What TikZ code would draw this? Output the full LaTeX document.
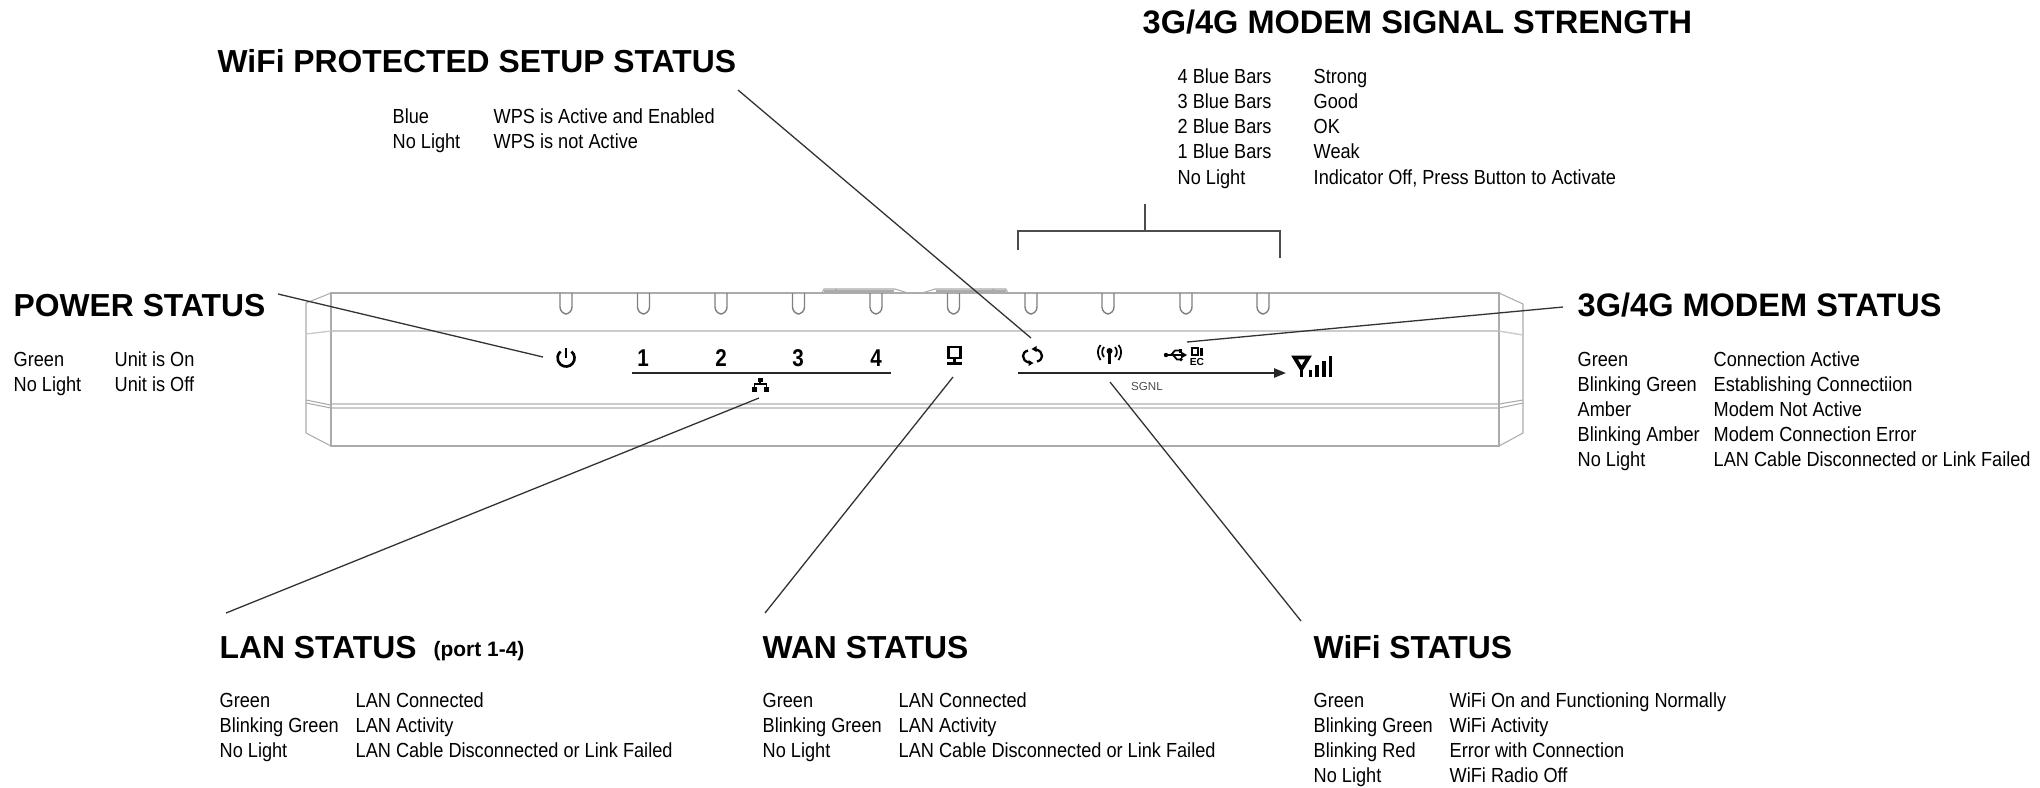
\documentclass[tikz,border=0pt]{standalone}
\usepackage{fontspec}
\usetikzlibrary{arrows.meta}
\setmainfont{Liberation Sans}
\newfontfamily\rowfont[FakeStretch=0.89]{Liberation Sans}
\newfontfamily\digitfont[FakeStretch=0.85]{Liberation Sans}
\tikzset{
  headline/.style={anchor=base west, inner sep=0pt, font=\fontsize{9.05}{10}\selectfont\bfseries},
  headwide/.style={headline, font=\fontsize{9.25}{10}\selectfont\bfseries},
  rowtext/.style={anchor=base west, inner sep=0pt, font=\fontsize{5.8}{7}\rowfont},
  leddigit/.style={inner sep=0pt, font=\fontsize{6.9}{8}\digitfont\bfseries},
  leader/.style={black!80, line width=0.37pt},
  shell/.style={black!33, line width=0.3pt},
  band/.style={black!20, line width=0.8pt},
  iconline/.style={black, line width=0.75pt},
}
\begin{document}
\begin{tikzpicture}[x=0.01cm, y=-0.01cm]
  \useasboundingbox (0,0) rectangle (2040,787);

  \draw[band] (331,331) -- (1499,331);
  \draw[band, line width=0.5pt] (331,404) -- (1499,404);
  \draw[band, line width=0.5pt] (331,408) -- (1499,408);
  \draw[shell] (331,293) -- (1499,293) -- (1499,446) -- (331,446) -- cycle;
  \draw[shell] (331,293) -- (306,303) -- (306,433) -- (331,446);
  \draw[shell] (1499,293) -- (1523,304) -- (1523,433) -- (1499,446);
  \draw[band, line width=0.4pt] (306,334) -- (331,331);
  \draw[band, line width=0.4pt] (1499,331) -- (1523,335);
  \draw[shell] (306,400) -- (331,405);
  \draw[shell] (306,403) -- (331,408);
  \draw[shell] (1499,404) -- (1523,400);
  \draw[shell] (1499,408) -- (1523,403);
  \draw[shell] (822,293) -- (824,289) -- (895,289) -- (908,293);
  \draw[shell] (922,293) -- (935,289) -- (1006,289) -- (1008,293);
  \draw[shell] (824,291) -- (894,291);
  \draw[shell] (936,291) -- (1006,291);
  \draw[shell] (836,289) -- (836,293);
  \draw[shell] (993,289) -- (993,293);
  \foreach \tx in {566,643.5,721,798.5,876,953.5,1031,1108,1186,1263}
    \draw[shell, black!50, rounded corners=2pt, line width=0.4pt] (\tx-6,293) -- (\tx-6,314) -- (\tx+6,314) -- (\tx+6,293);

  \node[headline] (powerhead) at (13,316) {POWER STATUS};
  \foreach \ry/\ca/\cb in {366/Green/Unit is On,391/No Light/Unit is Off} {
    \node[rowtext] (powera\ry) at (13,\ry) {\ca};
    \node[rowtext] (powerb\ry) at (114,\ry) {\cb};
  }
  \node[headline] (wpshead) at (217,72) {WiFi PROTECTED SETUP STATUS};
  \foreach \ry/\ca/\cb in {123/Blue/WPS is Active and Enabled,148/No Light/WPS is not Active} {
    \node[rowtext] (wpsa\ry) at (392,\ry) {\ca};
    \node[rowtext] (wpsb\ry) at (493,\ry) {\cb};
  }
  \node[headwide] (signalhead) at (1142,33) {3G/4G MODEM SIGNAL STRENGTH};
  \foreach \ry/\ca/\cb in {83/4 Blue Bars/Strong,108/3 Blue Bars/Good,133/2 Blue Bars/OK,158/1 Blue Bars/Weak,184/No Light/{Indicator Off, Press Button to Activate}} {
    \node[rowtext] (signala\ry) at (1177,\ry) {\ca};
    \node[rowtext] (signalb\ry) at (1313,\ry) {\cb};
  }
  \node[headwide] (modemhead) at (1577,316) {3G/4G MODEM STATUS};
  \foreach \ry/\ca/\cb in {366/Green/Connection Active,391/Blinking Green/Establishing Connectiion,416/Amber/Modem Not Active,441/Blinking Amber/Modem Connection Error,466/No Light/LAN Cable Disconnected or Link Failed} {
    \node[rowtext] (modema\ry) at (1577,\ry) {\ca};
    \node[rowtext] (modemb\ry) at (1713,\ry) {\cb};
  }
  \node[headline] (lanhead) at (219,658) {LAN STATUS};
  \node[headline, font=\fontsize{5.95}{7}\selectfont\bfseries] (lanport) at (433,656) {(port 1-4)};
  \foreach \ry/\ca/\cb in {707/Green/LAN Connected,732/Blinking Green/LAN Activity,757/No Light/LAN Cable Disconnected or Link Failed} {
    \node[rowtext] (lana\ry) at (219,\ry) {\ca};
    \node[rowtext] (lanb\ry) at (355,\ry) {\cb};
  }
  \node[headline] (wanhead) at (762,658) {WAN STATUS};
  \foreach \ry/\ca/\cb in {707/Green/LAN Connected,732/Blinking Green/LAN Activity,757/No Light/LAN Cable Disconnected or Link Failed} {
    \node[rowtext] (wana\ry) at (762,\ry) {\ca};
    \node[rowtext] (wanb\ry) at (898,\ry) {\cb};
  }
  \node[headline] (wifihead) at (1313,658) {WiFi STATUS};
  \foreach \ry/\ca/\cb in {707/Green/WiFi On and Functioning Normally,732/Blinking Green/WiFi Activity,757/Blinking Red/Error with Connection,782/No Light/WiFi Radio Off} {
    \node[rowtext] (wifia\ry) at (1313,\ry) {\ca};
    \node[rowtext] (wifib\ry) at (1449,\ry) {\cb};
  }

  \foreach \n/\tx in {1/643,2/721,3/798,4/876}
    \node[leddigit] (led\n) at (\tx,358) {\n};
  \draw[black!85, line width=0.55pt] (632,373) -- (891,373);

  \draw[iconline] (571.5,351.5) arc[start angle=-50, end angle=230, radius=8.5];
  \draw[iconline] (566,348) -- (566,358);

  \fill (757.5,377.5) rectangle (762.5,382);
  \draw[line width=0.4pt] (760,380) -- (760,384) (754.5,389) -- (754.5,384) -- (766.5,384) -- (766.5,389);
  \fill (752,387) rectangle (757,392);
  \fill (764,387) rectangle (769,392);

  \draw[line width=0.6pt] (948.5,347) rectangle (960.5,358);
  \draw[line width=0.6pt] (954.5,358) -- (954.5,362);
  \fill (947,362) rectangle (962,365);

  \draw[iconline, line width=0.65pt] (1028,350.5) .. controls (1024.5,351.5) and (1023,353.5) .. (1023,356) .. controls (1023,359) and (1025,361.5) .. (1029,362.5);
  \fill (1033.5,363) -- (1028.5,360) -- (1028.5,366) -- cycle;
  \draw[iconline, line width=0.65pt] (1037,361.5) .. controls (1040.5,360.5) and (1042,358.5) .. (1042,356) .. controls (1042,353) and (1040,350.5) .. (1036,349.5);
  \fill (1031.5,349) -- (1036.5,352) -- (1036.5,346) -- cycle;

  \draw[line width=1pt] (1109.5,351) -- (1109.5,364);
  \fill (1109.5,351) circle (3);
  \foreach \sgn in {-1,1} {
    \draw[line width=0.5pt] (1109.5+\sgn*5.5,347) .. controls (1109.5+\sgn*8,350) and (1109.5+\sgn*8,354) .. (1109.5+\sgn*5.5,357);
    \draw[line width=0.5pt] (1109.5+\sgn*9,345) .. controls (1109.5+\sgn*12.5,349) and (1109.5+\sgn*12.5,355) .. (1109.5+\sgn*9,360);
  }

  \draw[line width=0.5pt] (1165,355) -- (1183,355);
  \fill (1166,355) circle (2.2);
  \fill (1187,355) -- (1181,351.5) -- (1181,358.5) -- cycle;
  \draw[line width=0.5pt] (1171,355) -- (1175,350.5) -- (1180,350.5);
  \draw[line width=0.5pt] (1173,355) -- (1177,359.5) -- (1181,359.5);
  \fill (1179,348.5) rectangle (1182,352.5);
  \fill (1181,359.5) circle (1.8);
  \draw[line width=0.7pt] (1192,348) rectangle (1198,355);
  \fill (1200,348) rectangle (1203,356);
  \node[inner sep=0pt, font=\fontsize{2.9}{3}\selectfont\bfseries] (ecmark) at (1197,361.5) {EC};

  \coordinate (signalstart) at (1018,373);
  \coordinate (signalend) at (1286,373);
  \draw[black!85, line width=0.55pt, -{Triangle[length=3.4pt,width=2.6pt]}] (signalstart) -- (signalend);
  \node[inner sep=0pt, text=black!70, font=\fontsize{3.3}{4}\selectfont] (sgnlmark) at (1147,386) {SGNL};

  \draw[line width=1.05pt, line join=miter] (1294.5,357.5) -- (1308.5,357.5) -- (1301.5,369) -- cycle;
  \draw[line width=1.1pt] (1301.5,366) -- (1301.5,377);
  \fill (1308.5,370) rectangle (1312,377);
  \fill (1315,364.5) rectangle (1319,377);
  \fill (1321.5,360.5) rectangle (1325.5,377);
  \fill (1328.5,356) rectangle (1332,377);

  \coordinate (powerfrom) at (278,294);
  \coordinate (powerto) at (543,357);
  \coordinate (wpsfrom) at (738,90);
  \coordinate (wpsto) at (1031,338);
  \coordinate (modemfrom) at (1563,307);
  \coordinate (modemto) at (1187,342);
  \coordinate (lanfrom) at (226,613);
  \coordinate (lanto) at (759,398);
  \coordinate (wanfrom) at (765,613);
  \coordinate (wanto) at (953,377);
  \coordinate (wififrom) at (1301,621);
  \coordinate (wifito) at (1110,382);
  \foreach \lead in {power,wps,modem,lan,wan,wifi}
    \draw[leader] (\lead from) -- (\lead to);

  \coordinate (brackettop) at (1145,204);
  \coordinate (bracketmid) at (1145,231);
  \coordinate (bracketleft) at (1018,250);
  \coordinate (bracketright) at (1280,258);
  \draw[leader, black!70] (brackettop) -- (bracketmid);
  \draw[leader, black!70] (bracketleft) |- (bracketmid) -| (bracketright);
\end{tikzpicture}
\end{document}
